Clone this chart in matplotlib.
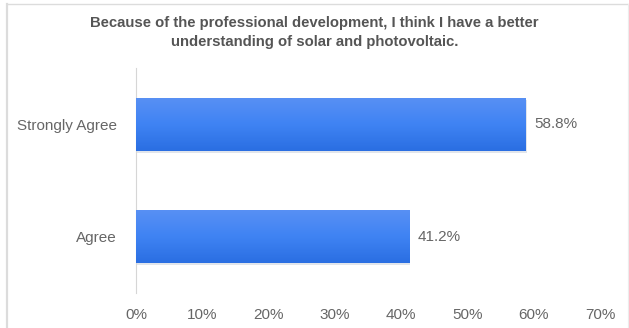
import numpy as np
import matplotlib.pyplot as plt
from matplotlib.colors import LinearSegmentedColormap
from matplotlib.lines import Line2D

# survey responses (percent of participants)
categories = ['Agree', 'Strongly Agree']
shares = [41.2, 58.8]
tick_values = [0, 10, 20, 30, 40, 50, 60, 70]

TITLE = ('Because of the professional development, I think I have a better\n'
         'understanding of solar and photovoltaic.')

plt.rcParams['font.family'] = ['Liberation Sans', 'DejaVu Sans']

fig = plt.figure(figsize=(6.29, 3.28), dpi=100)
ax = fig.add_axes([0.2162, 0.107, 0.738, 0.686])

bar_h = 0.47
grad = LinearSegmentedColormap.from_list('blue_grad', ['#2a6ee2', '#3f83f3', '#5890f4'])
gradient = np.linspace(0, 1, 256).reshape(-1, 1)

ypos = np.arange(len(categories))
bars = ax.barh(ypos, shares, height=bar_h, color='#3b7ff0', edgecolor='none', zorder=2)
for rect, val in zip(bars, shares):
    x0, y0 = rect.get_x(), rect.get_y()
    w, hgt = rect.get_width(), rect.get_height()
    # soft drop shadow under each bar
    ax.add_patch(plt.Rectangle((x0 + 0.1, y0 - 0.02), w, hgt, color='#c4ccd8',
                               alpha=0.5, zorder=1, lw=0))
    im = ax.imshow(gradient, cmap=grad, aspect='auto', origin='lower',
                   extent=[x0, x0 + w, y0, y0 + hgt], zorder=3)
    im.set_clip_path(rect)
    ax.text(val + 1.2, rect.get_y() + hgt / 2, f'{val}%', va='center', ha='left',
            fontsize=11, color='#666666')

ax.set_xlim(0, 70)
ax.set_ylim(-0.5, 1.5)
ax.set_xticks(tick_values)
ax.set_xticklabels([f'{t}%' for t in tick_values])
ax.set_yticks(ypos)
ax.set_yticklabels(categories)
ax.tick_params(axis='both', length=0, labelsize=11, labelcolor='#666666')
ax.tick_params(axis='x', pad=11)
ax.tick_params(axis='y', pad=14)
for side in ['top', 'right', 'bottom']:
    ax.spines[side].set_visible(False)
ax.spines['left'].set_color('#d6d6d6')
ax.spines['left'].set_linewidth(0.8)

fig.text(0.5, 0.952, TITLE, ha='center', va='top', fontsize=10.7, fontweight='bold',
         color='#555555', linespacing=1.45)

# light frame around the chart area
fig.add_artist(Line2D([0.0111, 0.0111], [0, 0.988], transform=fig.transFigure,
                      color='#dcdcdc', lw=1.6))
fig.add_artist(Line2D([0.0111, 1.0], [0.988, 0.988], transform=fig.transFigure,
                      color='#dcdcdc', lw=1.0))
fig.add_artist(Line2D([0.998, 0.998], [0, 0.988], transform=fig.transFigure,
                      color='#ececec', lw=0.8))

fig.savefig('out.png', dpi=100)
